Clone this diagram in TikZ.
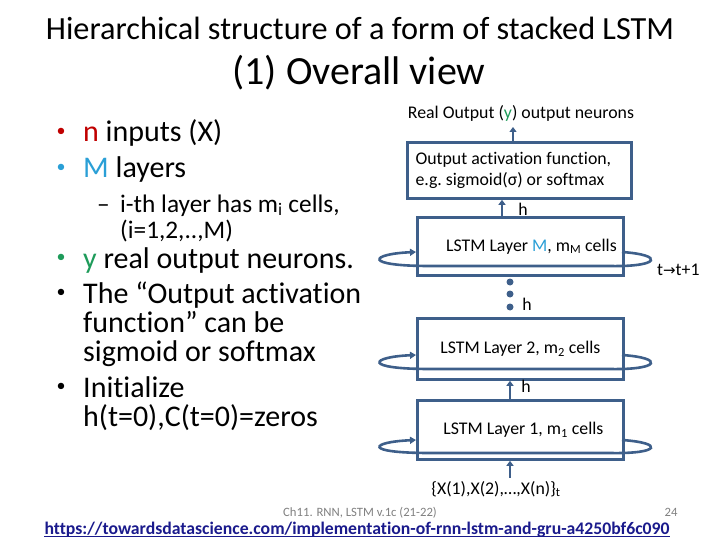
\documentclass[tikz,border=0pt]{standalone}
\usepackage{fontspec}
\setmainfont{Carlito}[Ligatures={NoCommon}]
\newfontfamily\dejavu{DejaVu Sans}
\usetikzlibrary{arrows.meta}
\definecolor{lstmblue}{HTML}{3E5F8A}
\definecolor{nred}{HTML}{C00000}
\definecolor{mcyan}{HTML}{2A9FD6}
\definecolor{ygreen}{HTML}{1E9B5A}
\definecolor{urlblue}{HTML}{1A1A8C}
\tikzset{
  box/.style={draw=lstmblue, line width=2.8pt, rectangle, inner sep=0pt, font=\fontsize{17.8}{22}\selectfont},
  uparr/.style={draw=lstmblue, line width=2.8pt, -{Triangle[length=5pt,width=7pt]}},
  loop/.style={draw=lstmblue, line width=2.6pt, -{Triangle[length=6pt,width=7pt]}},
  big/.style={anchor=base west, inner sep=0pt, font=\fontsize{30}{34}\selectfont},
  bul/.style={anchor=center, inner sep=0pt, font=\fontsize{18}{20}\selectfont},
  sub/.style={anchor=base west, inner sep=0pt, font=\fontsize{25.3}{29}\selectfont},
  lbl/.style={anchor=base, inner sep=0pt, font=\fontsize{17.8}{22}\selectfont},
  dot/.style={circle, fill=lstmblue, inner sep=0pt, minimum size=7pt}
}
\begin{document}
\begin{tikzpicture}[x=1pt,y=-1pt]
\useasboundingbox (0,0) rectangle (720,540);
% titles
\node[anchor=base, inner sep=0pt, font=\fontsize{32.3}{36}\selectfont] (t1) at (360,40) {Hierarchical structure of a form of stacked LSTM};
\node[anchor=base, inner sep=0pt, font=\fontsize{40}{44}\selectfont] (t2) at (359,85) {(1) Overall view};
% left bullets
\node[bul, text=nred] (b1) at (61,132) {•};
\node[big] (l1) at (83,142) {\textcolor{nred}{n} inputs (X)};
\node[bul, text=mcyan] (b2) at (61,168) {•};
\node[big] (l2) at (83,178) {\textcolor{mcyan}{M} layers};
\node[sub] (d1) at (97,212) {–};
\node[sub] (l3) at (120,212) {i-th layer has m\textsubscript{i} cells,};
\node[sub] (l4) at (120,238) {(i=1,2,..,M)};
\node[bul, text=ygreen] (b3) at (61,258) {•};
\node[big] (l5) at (83,268) {\textcolor{ygreen}{y} real output neurons.};
\node[bul] (b4) at (61,293) {•};
\node[big] (l6) at (83,303) {The “Output activation};
\node[big] (l7) at (83,332) {function” can be};
\node[big] (l8) at (83,361) {sigmoid or softmax};
\node[bul] (b5) at (61,387) {•};
\node[big] (l9) at (83,397) {Initialize};
\node[big] (l10) at (83,426) {h(t=0),C(t=0)=zeros};
% right diagram
\node[lbl] (real) at (521,119) {Real Output (\textcolor{ygreen}{y}) output neurons};
\node[box, anchor=north west, minimum width=224pt, minimum height=56pt, align=left] (out) at (406,141) {Output activation function,\rule{12pt}{0pt}\\[-1pt]e.g.\ sigmoid(σ) or softmax};
\coordinate (realb) at (513,127);
\draw[uparr] (out.north -| realb) -- (realb);
% loops (drawn before boxes)
\draw[loop] (622,252) .. controls (665,255) and (660,267) .. (610,266) -- (430,266) .. controls (362,266) and (370,254) .. (416,252);
\draw[loop] (622,355) .. controls (665,358) and (660,370) .. (610,369) -- (430,369) .. controls (362,369) and (370,357) .. (416,355);
\draw[loop] (622,440) .. controls (665,443) and (660,454) .. (610,453) -- (430,453) .. controls (362,453) and (370,442) .. (416,440);
\node[box, anchor=north west, minimum width=206pt, minimum height=58pt] (LM) at (416,216) {\hspace{22pt}LSTM Layer \textcolor{mcyan}{M}, m\textsubscript{M} cells};
\node[box, anchor=north west, minimum width=206pt, minimum height=61pt] (L2) at (416,317) {LSTM Layer 2, m\textsubscript{2} cells};
\node[box, anchor=north west, minimum width=206pt, minimum height=59pt] (L1) at (416,399) {\hspace{6pt}LSTM Layer 1, m\textsubscript{1} cells};
% connectors
\coordinate (hx) at (502,0);
\draw[uparr] (LM.north -| hx) -- (out.south -| hx);
\node[lbl] (h1) at (523,215) {h};
\node[dot] (d1a) at (510,282) {};
\node[dot] (d1b) at (510,294) {};
\node[dot] (d1c) at (510,307) {};
\node[lbl] (h2) at (527,310) {h};
\coordinate (cx) at (510,0);
\draw[uparr] (L1.north -| cx) -- (L2.south -| cx);
\node[lbl] (h3) at (526,392) {h};
\node[lbl] (inp) at (496,494) {\{X(1),X(2),…,X(n)\}\textsubscript{t}};
\draw[uparr] (inp.north -| cx) ++(0,-3) -- (L1.south -| cx);
\node[lbl, anchor=base west] (tt) at (657,275) {t{\dejavu\fontsize{15}{17}\selectfont →}t+1};
% footer
\node[anchor=base, inner sep=0pt, text=black!50, font=\fontsize{12.7}{15}\selectfont] (foot) at (360,516) {Ch11. RNN, LSTM v.1c (21-22)};
\node[anchor=base, inner sep=0pt, text=black!50, font=\fontsize{12.7}{15}\selectfont] (pg) at (671,516) {24};
\node[anchor=base, inner sep=0pt, text=urlblue, font=\bfseries\fontsize{17.7}{21}\selectfont] (url) at (357,534) {https://towardsdatascience.com/implementation-of-rnn-lstm-and-gru-a4250bf6c090};
\draw[urlblue, line width=1.2pt] ([yshift=-2.5pt]url.base west) -- ([yshift=-2.5pt]url.base east);
\end{tikzpicture}
\end{document}
